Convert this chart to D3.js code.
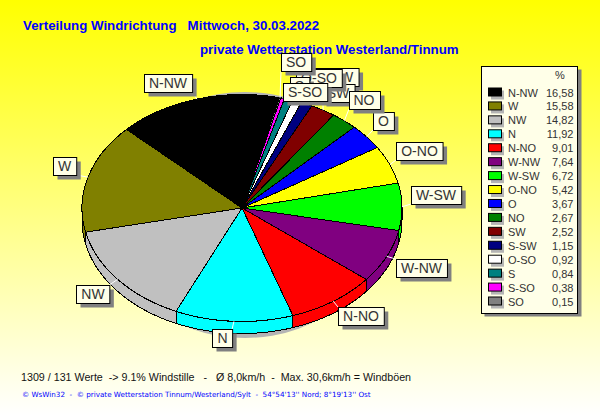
<!DOCTYPE html>
<html>
<head>
<meta charset="utf-8">
<script src="https://d3js.org/d3.v7.min.js"></script>
<style>
  body { margin: 0; }
  svg { display: block; }
  text { font-family: "Liberation Sans", Arial, sans-serif; white-space: pre; }
</style>
</head>
<body>
<svg id="chart" width="600" height="415"></svg>
<script>
  var directions = ["N-NW", "W", "NW", "N", "N-NO", "W-NW", "W-SW", "O-NO", "O", "NO", "SW", "S-SW", "O-SO", "S", "S-SO", "SO"];
  var percents = [16.58, 15.58, 14.82, 11.92, 9.01, 7.64, 6.72, 5.42, 3.67, 2.67, 2.52, 1.15, 0.92, 0.84, 0.38, 0.15];
  var colors = ["#000000", "#808000", "#c0c0c0", "#00ffff", "#ff0000", "#800080", "#00ff00", "#ffff00", "#0000ff", "#008000", "#800000", "#000080", "#ffffff", "#008080", "#ff00ff", "#808080"];

  var title1 = "Verteilung Windrichtung   Mittwoch, 30.03.2022";
  var title2 = "private Wetterstation Westerland/Tinnum";
  var infoLine = "1309 / 131 Werte  -> 9.1% Windstille   -   Ø 8,0km/h  -  Max. 30,6km/h = Windböen";
  var footLine = "© WsWin32  -  © private Wetterstation Tinnum/Westerland/Sylt  -  54°54'13'' Nord; 8°19'13'' Ost";

  // label box centres, in painting order (they overlap at the top right)
  var labelLayout = [
    ["N-NW", 168, 83], ["W", 64.5, 166], ["NW", 93, 293.5], ["N", 222.5, 337.5],
    ["N-NO", 361, 316], ["W-NW", 421.5, 267.5], ["W-SW", 436, 194.5], ["O-NO", 419.5, 151],
    ["O", 383.5, 120.5], ["S-SW", 335, 77], ["SW", 338, 93], ["NO", 364, 100],
    ["O-SO", 319, 77.5], ["S", 299.5, 86], ["S-SO", 305, 92], ["SO", 296, 62]
  ];

  var cx = 242, cy = 208, rx = 160, ry = 113.5, depth = 12;
  var startAngle = 13.5 * Math.PI / 180;
  var svg = d3.select("#chart");

  var grad = svg.append("defs").append("linearGradient")
    .attr("id", "bg").attr("x1", 0).attr("y1", 0).attr("x2", 0).attr("y2", 1);
  grad.append("stop").attr("offset", 0).attr("stop-color", "#ffff00");
  grad.append("stop").attr("offset", 1).attr("stop-color", "#ffffff");

  svg.append("rect").attr("width", 600).attr("height", 415).attr("fill", "url(#bg)");

  svg.append("text").attr("x", 23).attr("y", 30).attr("fill", "#0000ff")
    .attr("font-weight", "bold").attr("font-size", 13.3).text(title1);
  svg.append("text").attr("x", 200).attr("y", 54).attr("fill", "#0000ff")
    .attr("font-weight", "bold").attr("font-size", 13.3).text(title2);

  // shadow under the pie
  svg.append("ellipse").attr("cx", 245).attr("cy", 215).attr("rx", 140).attr("ry", 123).attr("fill", "#b4b4b4");

  var slices = d3.pie().sort(null).startAngle(startAngle).endAngle(startAngle - 2 * Math.PI)(percents);
  var colorOf = d3.scaleOrdinal().domain(directions).range(colors);

  function edgePoint(a) {
    return [cx + rx * Math.sin(a), cy - ry * Math.cos(a)];
  }

  // side wall, only the front half of the ellipse shows
  var frontLo = -1.5 * Math.PI, frontHi = -0.5 * Math.PI;
  var line = d3.line();
  slices.forEach(function(s, i) {
    var hi = Math.min(s.startAngle, frontHi), lo = Math.max(s.endAngle, frontLo);
    if (hi <= lo) return;
    var angles = d3.range(lo, hi, 0.01).concat([hi]);
    var top = angles.map(edgePoint);
    var bottom = top.map(function(p) { return [p[0], p[1] + depth]; }).reverse();
    svg.append("path")
      .attr("d", line(top.concat(bottom)) + "Z")
      .attr("fill", colorOf(directions[i]))
      .attr("stroke", "#000").attr("stroke-width", 1)
      .attr("shape-rendering", "crispEdges");
  });

  // top face, circle squashed to the ellipse
  var arc = d3.arc().innerRadius(0).outerRadius(rx);
  svg.append("g")
    .attr("transform", "translate(" + cx + "," + cy + ") scale(1," + (ry / rx) + ")")
    .selectAll("path").data(slices).enter().append("path")
    .attr("d", arc)
    .attr("fill", function(d, i) { return colorOf(directions[i]); })
    .attr("stroke", "#000").attr("stroke-width", 1)
    .attr("vector-effect", "non-scaling-stroke")
    .attr("shape-rendering", "crispEdges");

  // leader lines and boxed labels
  var boxH = 18;
  labelLayout.forEach(function(l) {
    var i = directions.indexOf(l[0]);
    var g = svg.append("g");
    var t = g.append("text").attr("x", l[1]).attr("y", l[2] + 5)
      .attr("text-anchor", "middle").attr("font-size", 14).attr("fill", "#333").text(l[0]);
    var w = t.node().getComputedTextLength() + 10;
    var x0 = Math.round(l[1] - w / 2), y0 = Math.round(l[2] - boxH / 2);
    var s = slices[i];
    var p = edgePoint((s.startAngle + s.endAngle) / 2);
    var ex = Math.max(x0, Math.min(x0 + w, p[0])), ey = Math.max(y0, Math.min(y0 + boxH, p[1]));
    g.insert("line", "text").attr("x1", p[0]).attr("y1", p[1]).attr("x2", ex).attr("y2", ey)
      .attr("stroke", "#fff").attr("stroke-width", 1);
    g.insert("rect", "text").attr("x", x0 + 4.5).attr("y", y0 + 4.5).attr("width", w).attr("height", boxH)
      .attr("fill", "#808080");
    g.insert("rect", "text").attr("x", x0 + 0.5).attr("y", y0 + 0.5).attr("width", w).attr("height", boxH)
      .attr("fill", "#ffffe8").attr("stroke", "#000").attr("stroke-width", 1);
  });

  // legend
  var fmt = d3.formatLocale({ decimal: ",", thousands: ".", grouping: [3], currency: ["", ""] }).format(".2f");
  var rowY = d3.scalePoint().domain(directions).range([92.5, 301.5]);
  var legend = svg.append("g");
  legend.append("rect").attr("x", 484.5).attr("y", 69.5).attr("width", 97).attr("height", 247).attr("fill", "#808080");
  legend.append("rect").attr("x", 481.5).attr("y", 66.5).attr("width", 96).attr("height", 247)
    .attr("fill", "#ffffe8").attr("stroke", "#000");
  legend.append("text").attr("x", 560).attr("y", 79).attr("text-anchor", "middle")
    .attr("font-size", 11).attr("fill", "#333").text("%");

  var rows = legend.selectAll("g.row").data(directions).enter().append("g").attr("class", "row")
    .attr("transform", function(d) { return "translate(0," + rowY(d) + ")"; });
  rows.append("rect").attr("x", 491).attr("y", -2).attr("width", 13).attr("height", 9).attr("fill", "#b4b4b4");
  rows.append("rect").attr("x", 488.5).attr("y", -4.5).attr("width", 13).attr("height", 8)
    .attr("fill", function(d) { return colorOf(d); }).attr("stroke", "#000");
  rows.append("text").attr("x", 508).attr("y", 4).attr("font-size", 11).attr("fill", "#333")
    .text(function(d) { return d; });
  rows.append("text").attr("x", 573.5).attr("y", 4).attr("text-anchor", "end").attr("font-size", 11).attr("fill", "#333")
    .text(function(d, i) { return fmt(percents[i]); });

  svg.append("text").attr("x", 21).attr("y", 381).attr("font-size", 10.7).attr("fill", "#111").text(infoLine);
  svg.append("text").attr("x", 22).attr("y", 397).attr("font-size", 7.2)
    .style("font-family", "'DejaVu Sans'").attr("fill", "#0000ff").text(footLine);
</script>
</body>
</html>
